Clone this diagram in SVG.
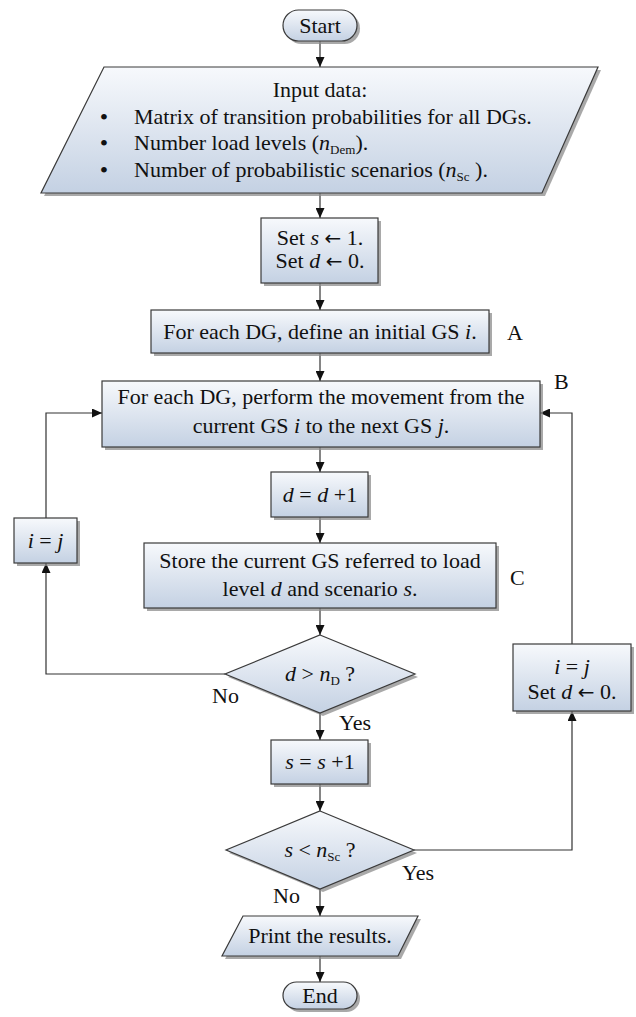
<svg xmlns="http://www.w3.org/2000/svg" width="636" height="1017" viewBox="0 0 636 1017">
<defs>
<linearGradient id="g" x1="0" y1="0" x2="0" y2="1">
<stop offset="0" stop-color="#f7f9fc"/>
<stop offset="1" stop-color="#c4d1e3"/>
</linearGradient>
<marker id="ah" markerUnits="userSpaceOnUse" markerWidth="10" markerHeight="9" refX="10" refY="4.5" orient="auto">
<path d="M0,0 L10,4.5 L0,9 z" fill="#111"/>
</marker>
</defs>
<style>
.n{fill:url(#g);stroke:#3a3a3a;stroke-width:1.2}
.sh{fill:#8c8c8c;opacity:0.75}
.t{font-family:"Liberation Serif","Times New Roman",serif;font-size:22px;fill:#111}
.m{text-anchor:middle}
.i{font-style:italic}
.ar{font-family:"DejaVu Sans",sans-serif;font-size:20px}
.b{font-size:24px}
.c{fill:none;stroke:#333;stroke-width:1.2;marker-end:url(#ah)}
</style>

<g id="connectors">
<path class="c" d="M320,41 V67"/>
<path class="c" d="M320,193 V218"/>
<path class="c" d="M320,283 V310"/>
<path class="c" d="M320,353 V381"/>
<path class="c" d="M320,447 V472"/>
<path class="c" d="M320,517 V543"/>
<path class="c" d="M320,608 V635"/>
<path class="c" d="M320,713 V740"/>
<path class="c" d="M320,784 V811"/>
<path class="c" d="M320,889 V916"/>
<path class="c" d="M320,956 V982"/>
<path class="c" d="M225,674 H46 V563"/>
<path class="c" d="M46,518 V413 H102"/>
<path class="c" d="M414,850 H572 V711"/>
<path class="c" d="M572,644 V413 H540"/>
</g>

<g id="start">
<rect class="sh" x="286" y="13" width="74" height="31" rx="15.5"/>
<rect class="n" x="283" y="10" width="74" height="31" rx="15.5"/>
<text class="t m" x="320" y="33">Start</text>
</g>

<g id="input">
<polygon class="sh" points="107,70 601,70 545,196 44,196"/>
<polygon class="n" points="104,67 598,67 542,193 41,193"/>
<text class="t m" x="320" y="97">Input data:</text>
<text class="t m b" x="104" y="125">•</text>
<text class="t m b" x="104" y="151">•</text>
<text class="t m b" x="104" y="178">•</text>
<text class="t" x="134" y="124">Matrix of transition probabilities for all DGs.</text>
<text class="t" x="134" y="150">Number load levels (<tspan class="i">n</tspan><tspan font-size="13" dy="4">Dem</tspan><tspan dy="-4">).</tspan></text>
<text class="t" x="134" y="177">Number of probabilistic scenarios (<tspan class="i">n</tspan><tspan font-size="13" dy="4">Sc</tspan><tspan dy="-4"> ).</tspan></text>
</g>

<g id="set">
<rect class="sh" x="264" y="221" width="117" height="65"/>
<rect class="n" x="261" y="218" width="117" height="65"/>
<text class="t m" x="320" y="245">Set  <tspan class="i">s</tspan> <tspan class="ar">←</tspan> 1.</text>
<text class="t m" x="320" y="268">Set <tspan class="i">d</tspan> <tspan class="ar">←</tspan> 0.</text>
</g>

<g id="define">
<rect class="sh" x="154" y="313" width="338" height="43"/>
<rect class="n" x="151" y="310" width="338" height="43"/>
<text class="t m" x="320" y="339">For each DG, define an initial GS <tspan class="i">i</tspan>.</text>
<text class="t" x="507" y="340">A</text>
</g>

<g id="perform">
<rect class="sh" x="105" y="384" width="438" height="66"/>
<rect class="n" x="102" y="381" width="438" height="66"/>
<text class="t m" x="321" y="404">For each DG, perform the movement from the</text>
<text class="t m" x="321" y="433">current GS <tspan class="i">i</tspan> to the next GS  <tspan class="i">j</tspan>.</text>
<text class="t" x="554" y="389">B</text>
</g>

<g id="dinc">
<rect class="sh" x="274" y="475" width="97" height="45"/>
<rect class="n" x="271" y="472" width="97" height="45"/>
<text class="t m" x="320" y="502"><tspan class="i">d</tspan> = <tspan class="i">d</tspan> +1</text>
</g>

<g id="store">
<rect class="sh" x="147" y="546" width="352" height="65"/>
<rect class="n" x="144" y="543" width="352" height="65"/>
<text class="t m" x="320" y="568">Store the current GS referred to load</text>
<text class="t m" x="320" y="596">level <tspan class="i">d</tspan> and scenario <tspan class="i">s</tspan>.</text>
<text class="t" x="510" y="585">C</text>
</g>

<g id="ij-left">
<rect class="sh" x="17" y="521" width="63" height="45"/>
<rect class="n" x="14" y="518" width="63" height="45"/>
<text class="t m" x="45.5" y="548"><tspan class="i">i</tspan> = <tspan class="i">j</tspan></text>
</g>

<g id="dec1">
<polygon class="sh" points="323,638 418,677 323,716 228,677"/>
<polygon class="n" points="320,635 415,674 320,713 225,674"/>
<text class="t m" x="320" y="681"><tspan class="i">d</tspan> &gt; <tspan class="i">n</tspan><tspan font-size="13" dy="4">D</tspan><tspan dy="-4"> ?</tspan></text>
<text class="t" x="212" y="703">No</text>
<text class="t" x="339" y="730">Yes</text>
</g>

<g id="ij-right">
<rect class="sh" x="516" y="647" width="118" height="67"/>
<rect class="n" x="513" y="644" width="118" height="67"/>
<text class="t m" x="572" y="674"><tspan class="i">i</tspan> = <tspan class="i">j</tspan></text>
<text class="t m" x="572" y="699">Set <tspan class="i">d</tspan> <tspan class="ar">←</tspan> 0.</text>
</g>

<g id="sinc">
<rect class="sh" x="274" y="743" width="97" height="44"/>
<rect class="n" x="271" y="740" width="97" height="44"/>
<text class="t m" x="320" y="769"><tspan class="i">s</tspan> = <tspan class="i">s</tspan> +1</text>
</g>

<g id="dec2">
<polygon class="sh" points="323,814 417,853 323,892 229,853"/>
<polygon class="n" points="320,811 414,850 320,889 226,850"/>
<text class="t m" x="320" y="857"><tspan class="i">s</tspan> &lt; <tspan class="i">n</tspan><tspan font-size="13" dy="4">Sc</tspan><tspan dy="-4"> ?</tspan></text>
<text class="t" x="402" y="880">Yes</text>
<text class="t" x="273" y="903">No</text>
</g>

<g id="print">
<polygon class="sh" points="246,919 421,919 401,959 225,959"/>
<polygon class="n" points="243,916 418,916 398,956 222,956"/>
<text class="t m" x="320" y="943">Print the results.</text>
</g>

<g id="end">
<rect class="sh" x="286" y="985" width="74" height="27" rx="13.5"/>
<rect class="n" x="283" y="982" width="74" height="27" rx="13.5"/>
<text class="t m" x="320" y="1003">End</text>
</g>
</svg>
